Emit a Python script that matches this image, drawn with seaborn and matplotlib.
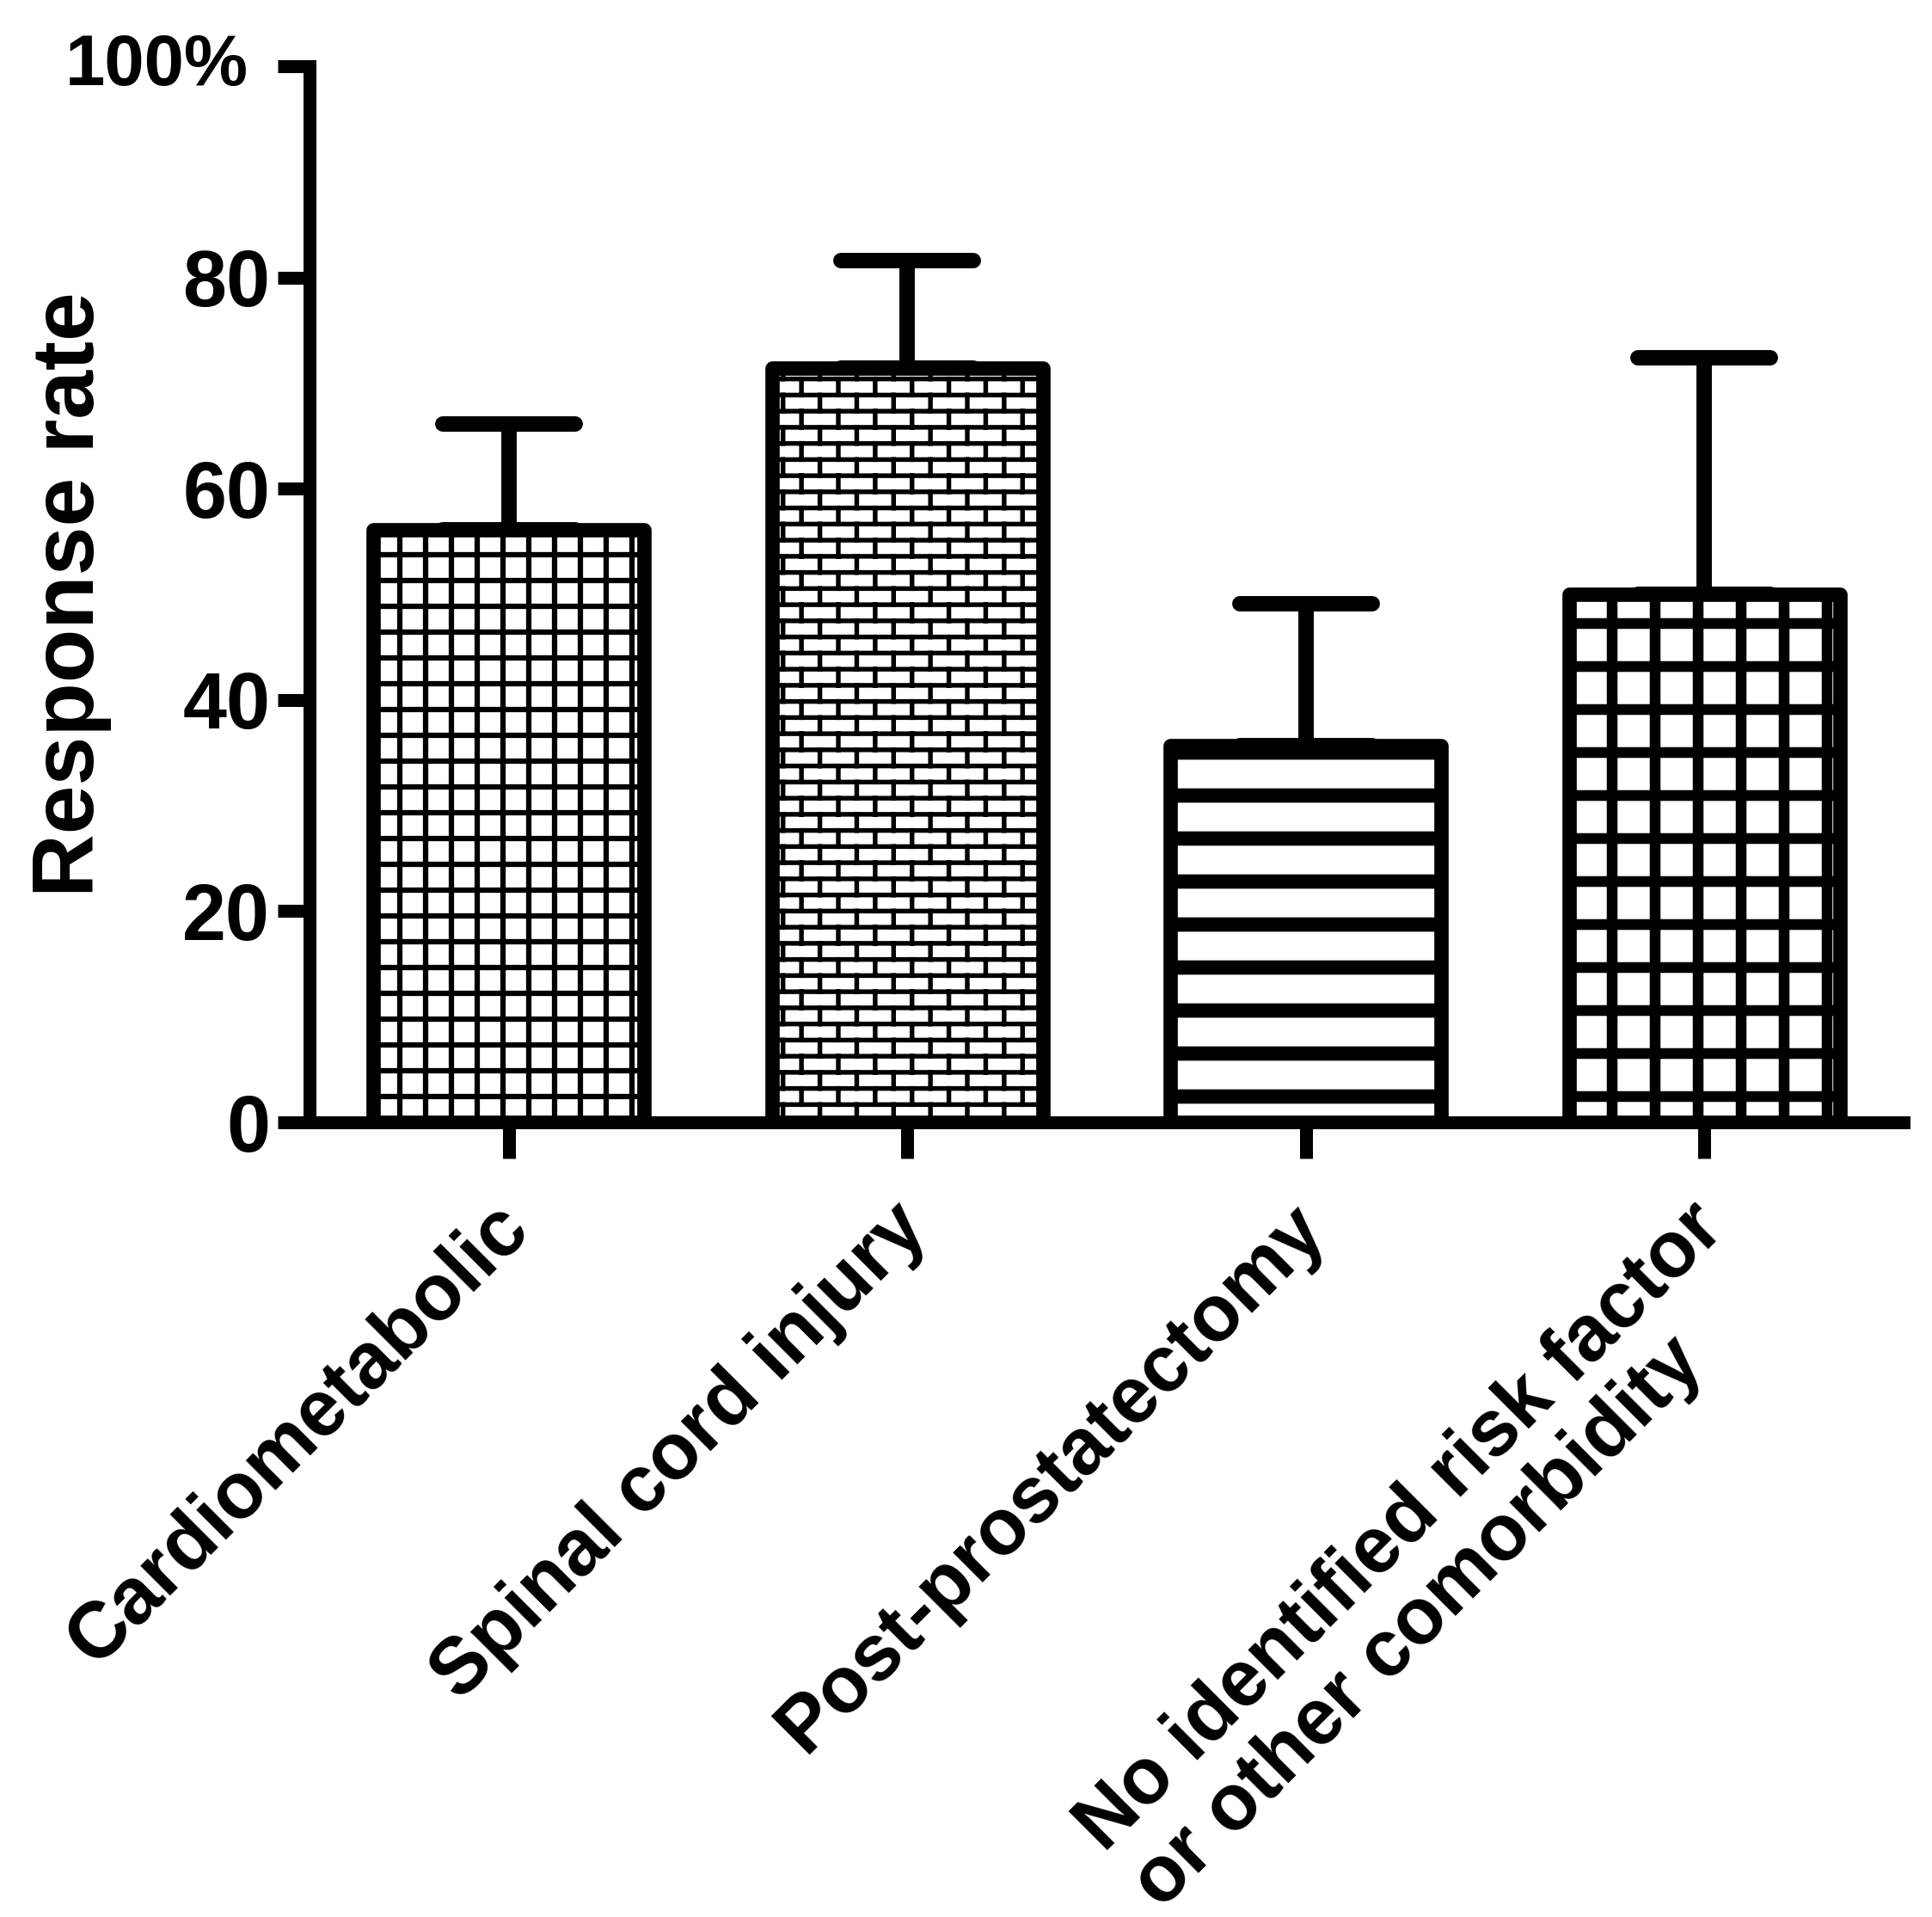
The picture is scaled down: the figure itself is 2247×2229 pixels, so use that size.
import warnings
import matplotlib
matplotlib.use("Agg")
import matplotlib.pyplot as plt
import matplotlib.hatch as mhatch
import matplotlib.transforms as mtransforms
from matplotlib.markers import MarkerStyle
from matplotlib.path import Path
import numpy as np
import seaborn as sns

warnings.filterwarnings("ignore")

# data
categories = ["Cardiometabolic", "Spinal cord injury", "Post-prostatectomy",
              "No identified risk factor\nor other comorbidity"]
response = [56.1, 71.4, 35.7, 50.0]
sem = [10.0, 10.2, 13.4, 22.4]
yticks = [0, 20, 40, 60, 80, 100]
ytick_labels = ["0", "20", "40", "60", "80", "100%"]

# hatch per bar and its line width (pt)
hatches = ["g", "b", "-", "+"]
hatch_lw = [1.5, 1.3, 4.0, 3.0]


class BrickHatch(mhatch.HatchPatternBase):
    # brick wall pattern for the 'b' hatch character
    def __init__(self, hatch, density):
        self.rows = hatch.count("b") * 16
        self.bricks = 7
        self.num_vertices = (self.rows * 2 + self.rows * self.bricks * 2
                             + self.bricks * 2) if self.rows else 0

    def set_vertices_and_codes(self, vertices, codes):
        segs = []
        step = 1.0 / self.rows
        for i in range(self.rows):
            y0 = (i + 0.5) * step
            segs.append(((0.0, y0), (1.0, y0)))
            y1 = y0 + step
            for k in range(self.bricks):
                x = (k + 0.25 + 0.5 * (i % 2)) / self.bricks
                if y1 <= 1.0:
                    segs.append(((x, y0), (x, y1)))
                else:
                    segs.append(((x, y0), (x, 1.0)))
                    segs.append(((x, 0.0), (x, y1 - 1.0)))
        vertices[:] = np.array(segs).reshape(-1, 2)
        codes[0::2] = Path.MOVETO
        codes[1::2] = Path.LINETO


class GridHatch(mhatch.HatchPatternBase):
    # square grid, 10 lines per hatch unit, for the 'g' character
    def __init__(self, hatch, density):
        self.n = hatch.count("g") * 10
        self.num_vertices = self.n * 4

    def set_vertices_and_codes(self, vertices, codes):
        segs = []
        for v in (np.arange(self.n) + 0.5) / self.n:
            segs.append(((0.0, v), (1.0, v)))
            segs.append(((v, 0.0), (v, 1.0)))
        vertices[:] = np.array(segs).reshape(-1, 2)
        codes[0::2] = Path.MOVETO
        codes[1::2] = Path.LINETO


mhatch._hatch_types.extend([BrickHatch, GridHatch])

sns.set_style("ticks")
plt.rcParams["font.family"] = ["Liberation Sans", "DejaVu Sans"]
plt.rcParams["font.weight"] = "bold"
plt.rcParams["hatch.color"] = "black"
plt.rcParams["text.color"] = "black"
plt.rcParams["axes.labelcolor"] = "black"
plt.rcParams["xtick.color"] = "black"
plt.rcParams["ytick.color"] = "black"

fig = plt.figure(figsize=(2247 / 300, 2229 / 300), dpi=300)
ax = fig.add_axes([0.1602, 0.4145, 0.8251, 0.5509])

sns.barplot(x=categories, y=response, color="white", edgecolor="black",
            linewidth=4, width=0.68, errorbar=None, ax=ax, zorder=3)

for p, h, lw in zip(ax.patches, hatches, hatch_lw):
    p.set_facecolor("white")
    p.set_hatch(h)
    p.set_joinstyle("round")
    if hasattr(p, "set_hatch_linewidth"):
        p.set_hatch_linewidth(lw)
    else:
        p._hatch_linewidth = lw

eb = ax.errorbar(np.arange(len(categories)), response,
                 yerr=[np.zeros(len(sem)), sem], fmt="none", ecolor="black",
                 elinewidth=4.3, capsize=18.5, capthick=4.3, zorder=2)
for cap in eb[1]:
    cap.set_marker(MarkerStyle("_", capstyle="round"))

ax.set_ylim(0, 100)
ax.set_xlim(-0.5, 3.5)
ax.set_yticks(yticks)
ax.set_yticklabels(ytick_labels, fontsize=22, fontweight="bold")
ax.set_xticks(range(len(categories)))
ax.set_xticklabels(categories, fontsize=22, fontweight="bold", rotation=45,
                   ha="right", va="top", rotation_mode="anchor",
                   multialignment="left", linespacing=1.1)
ax.tick_params(axis="y", length=9, width=3.6, pad=2, color="black")
ax.tick_params(axis="x", length=10, width=3.6, pad=9, color="black")

for side in ["top", "right"]:
    ax.spines[side].set_visible(False)
for side in ["left", "bottom"]:
    ax.spines[side].set_linewidth(3.6)
    ax.spines[side].set_color("black")

ax.set_ylabel("Response rate", fontsize=24.5, fontweight="bold")
ax.yaxis.set_label_coords(-0.124, 0.5)
ax.set_xlabel("")

# nudge the tick labels like the original
shift = mtransforms.ScaledTranslation(-5 / 72, 0, fig.dpi_scale_trans)
for lab in ax.get_xticklabels():
    lab.set_transform(lab.get_transform() + shift)
top = ax.get_yticklabels()[-1]
top.set_fontsize(20)
top.set_transform(top.get_transform()
                  + mtransforms.ScaledTranslation(-6 / 72, 2 / 72, fig.dpi_scale_trans))

fig.savefig("out.png", dpi=300, facecolor="white")
